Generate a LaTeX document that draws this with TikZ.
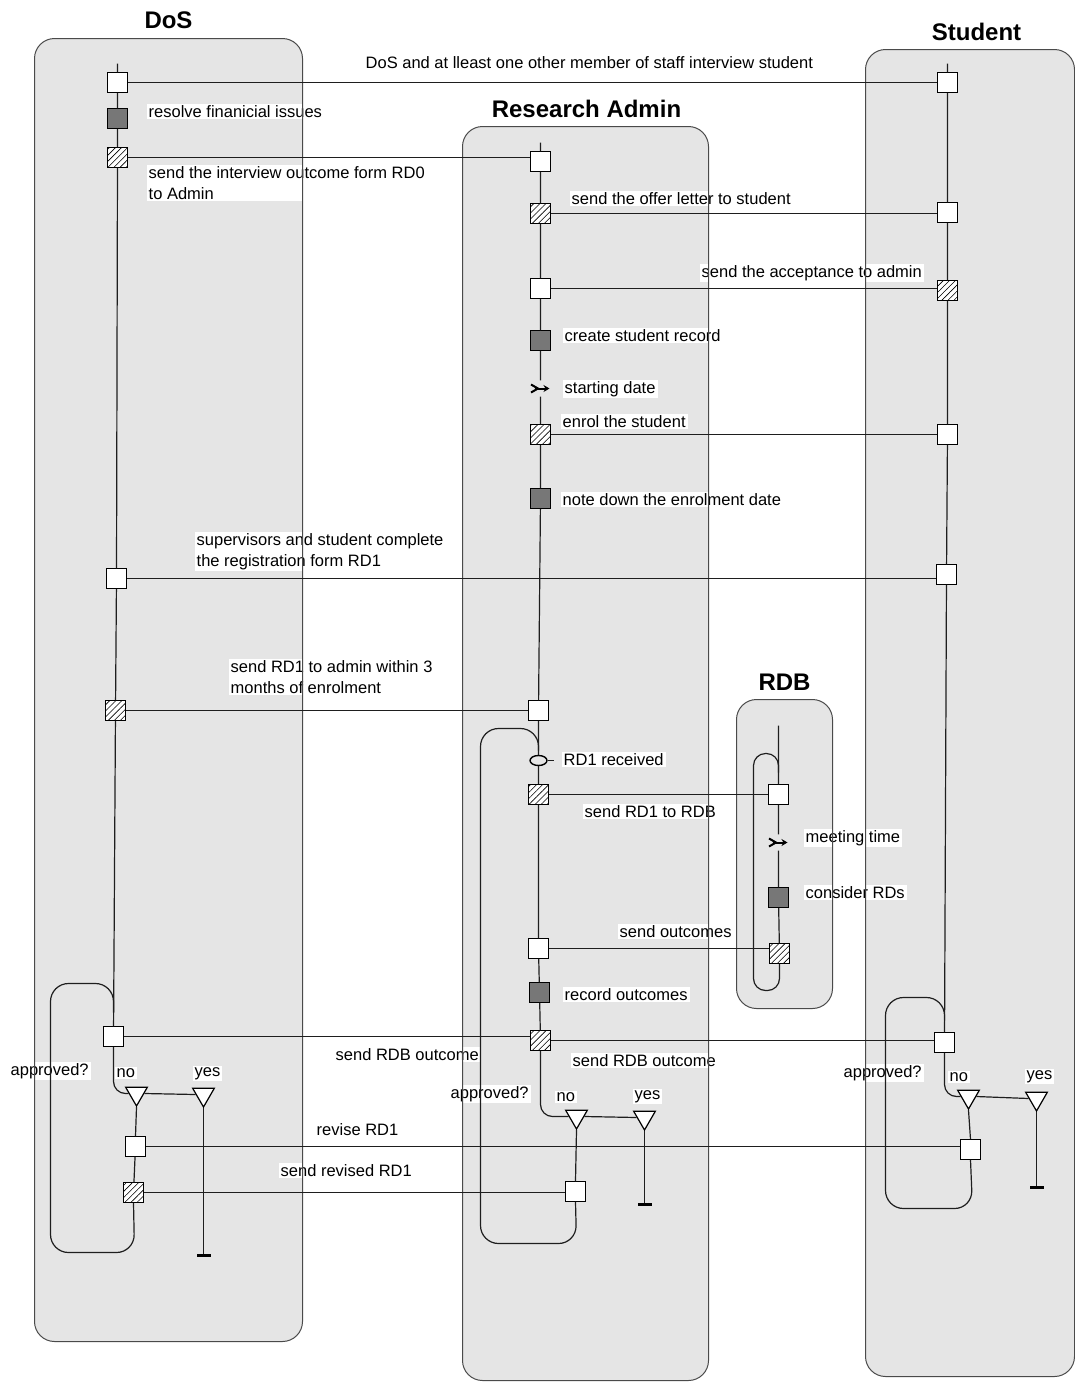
\documentclass[tikz,border=0pt]{standalone}
\usepackage{fontspec}
\setmainfont{Liberation Sans}
\usetikzlibrary{shapes.geometric, patterns.meta, arrows.meta}
\definecolor{lanefill}{HTML}{E5E5E5}
\definecolor{laneline}{HTML}{4A4A4A}
\definecolor{actfill}{HTML}{777777}
\definecolor{wire}{HTML}{1E1E1E}
\begin{document}
\begin{tikzpicture}[x=1pt, y=-1pt,
  lbl/.style={anchor=base west, fill=white, inner xsep=2pt, inner ysep=1.5pt, font=\fontsize{16.5}{20}\selectfont},
  mlbl/.style={anchor=north west, align=left, fill=white, inner xsep=2pt, inner ysep=1.5pt, font=\fontsize{16.5}{20.5}\selectfont},
  ttl/.style={anchor=base, inner sep=0pt, font=\fontsize{24}{28}\selectfont\bfseries},
  box/.style={draw=black, line width=1pt, minimum size=19.5pt, inner sep=0pt},
  recv/.style={box, fill=white, path picture={\fill (path picture bounding box.center) circle (0.6pt);}},
  act/.style={box, fill=actfill},
  send/.style={box, preaction={fill=white}, pattern={Lines[angle=45, distance=4.3pt, line width=0.6pt]}},
  tri/.style={draw=black, line width=1.2pt, fill=white, regular polygon, regular polygon sides=3, shape border rotate=180, minimum size=25pt, inner sep=0pt},
  stopbar/.style={fill=black, minimum width=14pt, minimum height=3.5pt, inner sep=0pt},
  timer/.style={minimum width=26pt, minimum height=16pt, inner sep=0pt, path picture={
      \draw[line width=2pt] ([xshift=-9.5pt, yshift=4pt]path picture bounding box.center) -- ([xshift=-2.5pt]path picture bounding box.center) -- ([xshift=-9.5pt, yshift=-4pt]path picture bounding box.center);
      \draw[line width=2pt, -{Stealth[length=6pt, width=7pt]}] ([xshift=-6pt]path picture bounding box.center) -- ([xshift=9pt]path picture bounding box.center);}},
  evt/.style={ellipse, draw=black, line width=1.4pt, minimum width=17pt, minimum height=10pt, inner sep=0pt},
  wireline/.style={draw=wire, line width=1.2pt},
  loopline/.style={draw=wire, line width=1.2pt, rounded corners=18pt},
  laneborder/.style={draw=laneline, line width=1pt, rounded corners=20pt},
  lanebg/.style={fill=lanefill, rounded corners=20pt}
]
\useasboundingbox (0,0) rectangle (1075,1382);
\begin{scope}[shift={(0.5,0.5)}]

% lane fills
\fill[lanebg] (34,38) rectangle (302,1341);
\fill[lanebg] (462,126) rectangle (708,1380);
\fill[lanebg] (865,49) rectangle (1074,1376);
\fill[lanebg] (736,699) rectangle (832,1008);

% labels
\node[lbl] (l1) at (363,68) {DoS and at lleast one other member of staff interview student};
\node[lbl] (l2) at (146,117) {resolve finanicial issues};
\node[mlbl] (l3) at (146,164.5) {send the interview outcome form RD0\\to Admin};
\node[lbl] (l4) at (569,204) {send the offer letter to student};
\node[lbl] (l5) at (699,277) {send the acceptance to admin};
\node[lbl] (l6) at (562,341) {create student record};
\node[lbl] (l7) at (562,393) {starting date\hspace{8pt}};
\node[lbl] (l8) at (560,427) {enrol the student};
\node[lbl] (l9) at (560,505) {note down the enrolment date};
\node[mlbl] (l10) at (194,531.5) {supervisors and student complete\\the registration form RD1};
\node[mlbl] (l11) at (228,658.5) {send RD1 to admin within 3\\months of enrolment};
\node[lbl] (l12) at (561,765) {RD1 received\hspace{6pt}};
\node[lbl] (l13) at (582,817) {send RD1 to RDB};
\node[lbl] (l14) at (803,842) {meeting time\hspace{6pt}};
\node[lbl] (l15) at (803,898) {consider RDs\hspace{6pt}};
\node[lbl] (l16) at (617,937) {send outcomes};
\node[lbl] (l17) at (562,1000) {record outcomes\hspace{4pt}};
\node[lbl] (l18) at (333,1060) {send RDB outcome};
\node[lbl] (l19) at (570,1066) {send RDB outcome};
\node[lbl] (l20) at (8,1075) {approved?};
\node[lbl] (l21) at (114,1077) {no};
\node[lbl] (l22) at (192,1076) {yes};
\node[lbl] (l23) at (314,1135) {revise RD1};
\node[lbl] (l24) at (278,1176) {send revised RD1};
\node[lbl] (l25) at (448,1098) {approved?};
\node[lbl] (l26) at (554,1101) {no};
\node[lbl] (l27) at (632,1099) {yes};
\node[lbl] (l28) at (841,1077) {approved?};
\node[lbl] (l29) at (947,1081) {no};
\node[lbl] (l30) at (1024,1079) {yes};

% lane borders
\draw[laneborder] (34,38) rectangle (302,1341);
\draw[laneborder] (462,126) rectangle (708,1380);
\draw[laneborder] (865,49) rectangle (1074,1376);
\draw[laneborder] (736,699) rectangle (832,1008);

% titles
\node[ttl] (tDoS) at (168,28) {DoS};
\node[ttl] (tAdmin) at (586,117) {Research Admin};
\node[ttl] (tStudent) at (976,40) {Student};
\node[ttl] (tRDB) at (784,690) {RDB};

% ---- DoS nodes
\coordinate (dtop) at (117,63);
\node[recv] (d1) at (117,82) {};
\node[act]  (d2) at (117,118) {};
\node[send] (d3) at (117,157) {};
\node[recv] (d4) at (116,578) {};
\node[send] (d5) at (115,710) {};
\node[recv] (d6) at (113,1036) {};
\node[tri]  (dno) at (136,1093) {};
\node[tri]  (dyes) at (203,1094) {};
\node[recv] (d7) at (135,1146) {};
\node[send] (d8) at (133,1192) {};
\node[stopbar] (dstop) at (203,1255) {};
\coordinate (dl1) at (134,1252);
\coordinate (dl2) at (50,1252);
\coordinate (dl3) at (50,983);
\coordinate (dl4) at (113,983);
\coordinate (dl5) at (113,1012);

% ---- Admin nodes
\coordinate (atop) at (540,142);
\node[recv] (a1) at (540,161) {};
\node[send] (a2) at (540,213) {};
\node[recv] (a3) at (540,288) {};
\node[act]  (a4) at (540,340) {};
\node[timer] (atim) at (540,388) {};
\node[send] (a5) at (540,434) {};
\node[act]  (a6) at (540,498) {};
\node[recv] (a7) at (538,710) {};
\node[evt]  (arcv) at (538,760) {};
\node[send] (a8) at (538,794) {};
\node[recv] (a9) at (538,948) {};
\node[act]  (a10) at (539,992) {};
\node[send] (a11) at (540,1040) {};
\node[tri]  (ano) at (576,1116) {};
\node[tri]  (ayes) at (644,1117) {};
\node[recv] (a12) at (575,1191) {};
\node[stopbar] (astop) at (644,1204) {};
\coordinate (al1) at (576,1243);
\coordinate (al2) at (480,1243);
\coordinate (al3) at (480,728);
\coordinate (al4) at (538,728);
\coordinate (al5) at (538,750);

% ---- RDB nodes
\coordinate (rtop) at (778,725);
\node[recv] (r1) at (778,794) {};
\node[timer] (rtim) at (778,842) {};
\node[act]  (r3) at (778,897) {};
\node[send] (r4) at (779,953) {};
\coordinate (rl1) at (779,990);
\coordinate (rl2) at (753,990);
\coordinate (rl3) at (753,753);
\coordinate (rl4) at (778,753);
\coordinate (rl5) at (778,772);

% ---- Student nodes
\coordinate (stop0) at (947,63);
\node[recv] (s1) at (947,82) {};
\node[recv] (s2) at (947,212) {};
\node[send] (s3) at (947,290) {};
\node[recv] (s4) at (947,434) {};
\node[recv] (s5) at (946,574) {};
\node[recv] (s6) at (944,1042) {};
\node[tri]  (sno) at (968,1096) {};
\node[tri]  (syes) at (1036,1098) {};
\node[recv] (s7) at (970,1149) {};
\node[stopbar] (sstop) at (1036,1187) {};
\coordinate (sl1) at (972,1208);
\coordinate (sl2) at (885,1208);
\coordinate (sl3) at (885,997);
\coordinate (sl4) at (944,997);
\coordinate (sl5) at (944,1020);

% ---- lifelines
\draw[wireline] (dtop) -- (d1) -- (d2) -- (d3) -- (d4) -- (d5) -- (d6);
\draw[wireline, rounded corners=12pt] (d6.south) |- (dno.west);
\draw[wireline] (dno.east) -- (dyes.west);
\draw[wireline] (dno.south) -- (d7.north);
\draw[wireline] (d7) -- (d8);
\draw[wireline] (dyes.south) -- (dstop);
\draw[loopline] (d8.south) -- (dl1) -- (dl2) -- (dl3) -- (dl4) -- (dl5);

\draw[wireline] (atop) -- (a1) -- (a2) -- (a3) -- (a4) -- (atim) -- (a5) -- (a6) -- (a7) -- (arcv) -- (a8) -- (a9) -- (a10) -- (a11);
\draw[wireline, line width=1.4pt] (arcv.east) -- ++(6,0);
\draw[wireline, rounded corners=12pt] (a11.south) |- (ano.west);
\draw[wireline] (ano.east) -- (ayes.west);
\draw[wireline] (ano.south) -- (a12.north);
\draw[wireline] (ayes.south) -- (astop);
\draw[loopline] (a12.south) -- (al1) -- (al2) -- (al3) -- (al4) -- (al5);

\draw[wireline] (rtop) -- (r1) -- (rtim) -- (r3) -- (r4);
\draw[wireline, rounded corners=12pt] (r4.south) -- (rl1) -- (rl2) -- (rl3) -- (rl4) -- (rl5);

\draw[wireline] (stop0) -- (s1) -- (s2) -- (s3) -- (s4) -- (s5) -- (s6);
\draw[wireline, rounded corners=12pt] (s6.south) |- (sno.west);
\draw[wireline] (sno.east) -- (syes.west);
\draw[wireline] (sno.south) -- (s7.north);
\draw[wireline] (syes.south) -- (sstop);
\draw[loopline] (s7.south) -- (sl1) -- (sl2) -- (sl3) -- (sl4) -- (sl5);

% ---- messages
\draw[wireline] (d1.east) -- (d1.east -| s1.west);
\draw[wireline] (d3.east) -- (d3.east -| a1.west);
\draw[wireline] (a2.east) -- (a2.east -| s2.west);
\draw[wireline] (a3.east) -- (a3.east -| s3.west);
\draw[wireline] (a5.east) -- (a5.east -| s4.west);
\draw[wireline] (d4.east) -- (d4.east -| s5.west);
\draw[wireline] (d5.east) -- (d5.east -| a7.west);
\draw[wireline] (a8.east) -- (a8.east -| r1.west);
\draw[wireline] (a9.east) -- (a9.east -| r4.west);
\draw[wireline] (d6.east) -- (d6.east -| a11.west);
\draw[wireline] (a11.east) -- (a11.east -| s6.west);
\draw[wireline] (d7.east) -- (d7.east -| s7.west);
\draw[wireline] (d8.east) -- (d8.east -| a12.west);
\end{scope}
\end{tikzpicture}
\end{document}
